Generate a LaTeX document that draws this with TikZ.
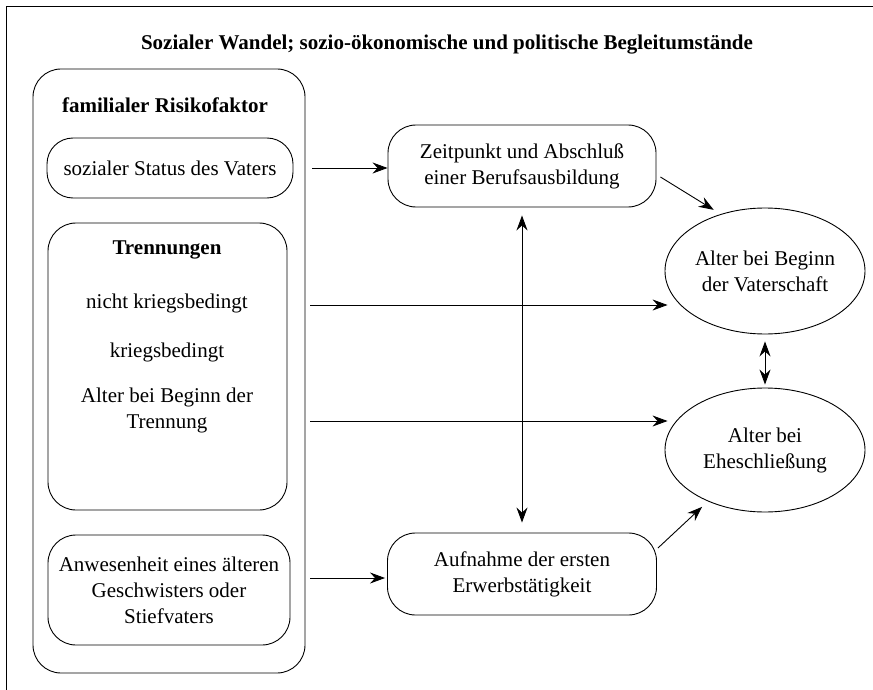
\documentclass[tikz,border=0pt]{standalone}
\usepackage{fontspec}
\setmainfont{Liberation Serif}
\usetikzlibrary{arrows.meta,shapes.geometric}
\begin{document}
\begin{tikzpicture}[x=1pt,y=-1pt,
  line width=0.9pt,
  txt/.style={font=\fontsize{21}{26}\selectfont, align=center, inner sep=0pt},
  hd/.style={font=\fontsize{21}{26}\selectfont\bfseries, align=center, inner sep=0pt},
  rbox/.style={draw, rectangle, rounded corners=26pt, inner sep=0pt},
  oval/.style={draw, ellipse, inner sep=0pt},
  arr/.style={-{Stealth[length=15pt,width=11pt,inset=5pt]}},
  darr/.style={{Stealth[length=15pt,width=11pt,inset=5pt]}-{Stealth[length=15pt,width=11pt,inset=5pt]}}
]
\useasboundingbox (0,0) rectangle (873,690);

% page frame (left and top edge)
\draw (6,690) -- (6,6) -- (873,6);

% heading
\node[hd] (ttl) at (447,45) {Sozialer Wandel; sozio-ökonomische und politische Begleitumstände};

% family risk factors group
\node[rbox, rounded corners=28pt, minimum width=272pt, minimum height=604pt] (grp) at (169,371) {};
\node[hd] (grpt) at (165,105) {familialer Risikofaktor};

\node[rbox, minimum width=246pt, minimum height=60pt, txt] (box1) at (170,168) {sozialer Status des Vaters};

\node[rbox, rounded corners=28pt, minimum width=239pt, minimum height=287pt] (box2) at (167.5,366.5) {};
\node[hd] (trn) at (167,250) {Trennungen};
\node[txt] (nk) at (167,303) {nicht kriegsbedingt};
\node[txt] (kb) at (167,352) {kriegsbedingt};
\node[txt] (ab) at (167,410) {Alter bei Beginn der\\Trennung};

\node[rbox, rounded corners=28pt, minimum width=242pt, minimum height=110pt, txt] (box3) at (169,590) {Anwesenheit eines älteren\\Geschwisters oder\\Stiefvaters};

% intermediate stages
\node[rbox, rounded corners=28pt, minimum width=268pt, minimum height=82pt, txt] (zeit) at (522,166) {Zeitpunkt und Abschluß\\einer Berufsausbildung};
\node[rbox, rounded corners=28pt, minimum width=269pt, minimum height=82pt, txt] (auf) at (522,574) {Aufnahme der ersten\\Erwerbstätigkeit};

% outcomes
\node[oval, minimum width=200pt, minimum height=126pt, txt] (vat) at (765,271) {Alter bei Beginn\\der Vaterschaft};
\node[oval, minimum width=200pt, minimum height=124pt, txt] (ehe) at (765,450) {Alter bei\\Eheschließung};

% connection heights
\coordinate (yA) at (0,305);
\coordinate (yB) at (0,421);
\coordinate (yC) at (0,578);

% connectors
\draw[arr] ([xshift=7pt]grp.east |- box1) -- (zeit.west |- box1);
\draw[arr] ([xshift=5pt]grp.east |- yA) -- ([xshift=3pt]vat.west |- yA);
\draw[arr] ([xshift=5pt]grp.east |- yB) -- ([xshift=3pt]ehe.west |- yB);
\draw[arr] ([xshift=5pt]grp.east |- yC) -- ([xshift=-2pt]auf.west |- yC);
\draw[arr, shorten >=8pt] ([shift={(4,11)}]zeit.east) -- (vat.128);
\draw[arr, shorten >=8pt] ([shift={(1,-26)}]auf.east) -- (ehe.222);
\draw[darr, shorten <=8pt, shorten >=10pt] (zeit.south) -- (auf.north);
\draw[darr, shorten <=7pt, shorten >=3pt] (vat.south) -- (ehe.north);
\end{tikzpicture}
\end{document}
